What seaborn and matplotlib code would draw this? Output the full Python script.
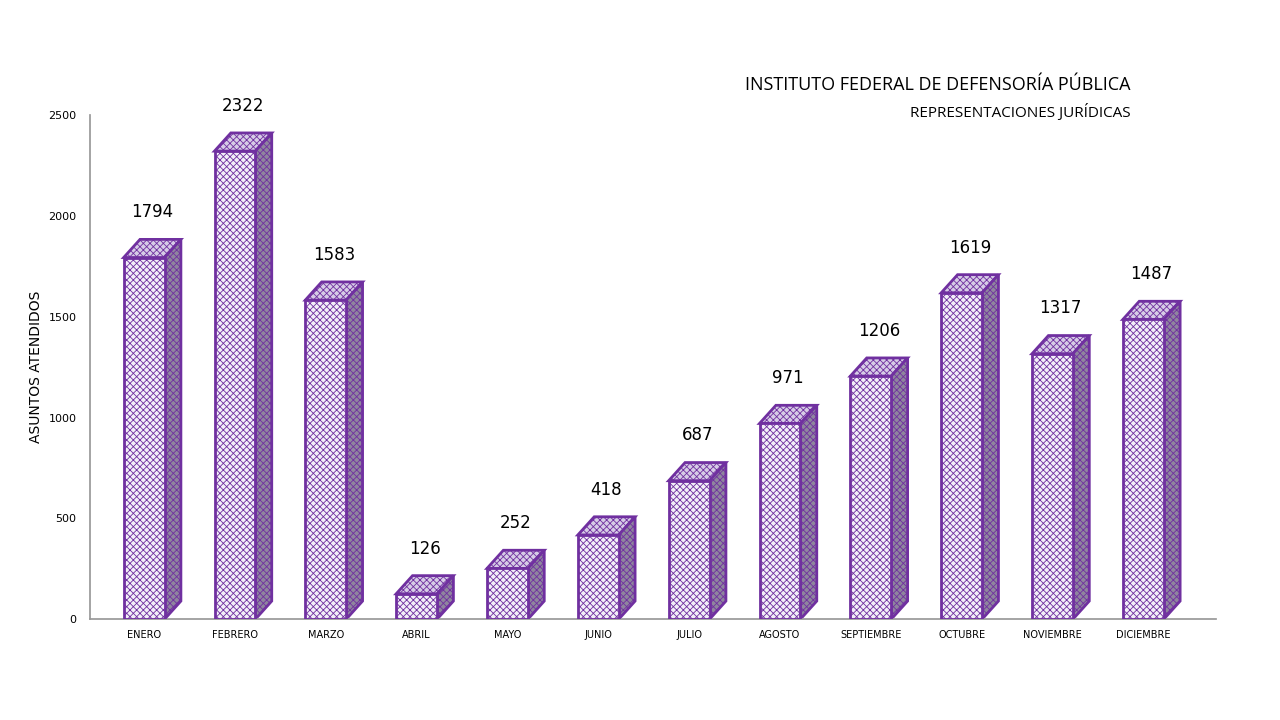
import matplotlib
matplotlib.use("Agg")
import matplotlib.pyplot as plt
from matplotlib.patches import Polygon
import pandas as pd
import seaborn as sns

meses = ['ENERO', 'FEBRERO', 'MARZO', 'ABRIL', 'MAYO', 'JUNIO', 'JULIO',
         'AGOSTO', 'SEPTIEMBRE', 'OCTUBRE', 'NOVIEMBRE', 'DICIEMBRE']
asuntos = [1794, 2322, 1583, 126, 252, 418, 687, 971, 1206, 1619, 1317, 1487]

df = pd.DataFrame({'mes': meses, 'asuntos': asuntos})

sns.set_theme(style='white')
plt.rcParams['font.family'] = ['DejaVu Sans']
plt.rcParams['hatch.color'] = '#8C6BB8'
plt.rcParams['hatch.linewidth'] = 0.6

borde = '#7030A0'
fig, ax = plt.subplots(figsize=(12.8, 7.2), dpi=100)
fig.subplots_adjust(left=0.07, right=0.95, top=0.84, bottom=0.14)

sns.barplot(data=df, x='mes', y='asuntos', color='#F2EEF9', edgecolor=borde,
            linewidth=2, width=0.45, ax=ax, zorder=3)

# fake depth: top and side faces built from each bar's own geometry
dx, dy = 0.18, 90
for bar in ax.patches:
    bar.set_hatch('xxxxx')
    x0, w, h = bar.get_x(), bar.get_width(), bar.get_height()
    top = Polygon([(x0, h), (x0 + dx, h + dy), (x0 + w + dx, h + dy), (x0 + w, h)],
                  closed=True, facecolor='#D6CCE6', edgecolor=borde, lw=2,
                  hatch='xxxxx', zorder=2)
    side = Polygon([(x0 + w, 0), (x0 + w + dx, dy), (x0 + w + dx, h + dy), (x0 + w, h)],
                   closed=True, facecolor='#8F859E', edgecolor=borde, lw=2,
                   hatch='xxxxx', zorder=2)
    ax.add_patch(top)
    ax.add_patch(side)
    ax.text(x0 + w / 2 + dx / 2, h + dy + 90, f'{int(h)}', ha='center',
            va='bottom', fontsize=12, color='black')

ax.set_ylim(0, 2500)
ax.set_yticks(range(0, 2501, 500))
ax.set_xlim(-0.6, 11.8)
ax.set_ylabel('ASUNTOS ATENDIDOS', fontsize=10, color='black')
ax.set_xlabel('')
ax.tick_params(axis='x', labelsize=7, length=0, pad=8, colors='black')
ax.tick_params(axis='y', labelsize=8, colors='black')
for s in ['top', 'right']:
    ax.spines[s].set_visible(False)
ax.spines['left'].set_color('#999999')
ax.spines['bottom'].set_color('#999999')

fig.text(0.883, 0.875, 'INSTITUTO FEDERAL DE DEFENSORÍA PÚBLICA', ha='right',
         fontsize=13, fontfamily='Open Sans', color='black')
fig.text(0.883, 0.838, 'REPRESENTACIONES JURÍDICAS', ha='right',
         fontsize=11, fontfamily='Open Sans', color='black')

fig.savefig('out.png', dpi=100, facecolor='white')
